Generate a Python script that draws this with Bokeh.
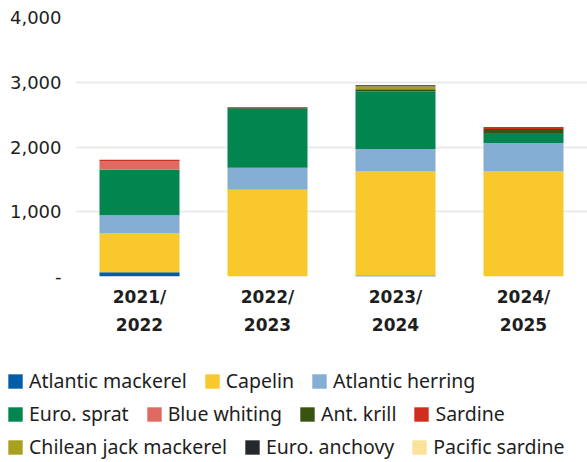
from bokeh.plotting import figure
from bokeh.models import (ColumnDataSource, FactorRange, Range1d, FixedTicker,
                          NumeralTickFormatter, Legend, LegendItem, CategoricalAxis,
                          CustomJSTickFormatter)
from bokeh.embed import file_html
from bokeh.resources import INLINE

# ---- data (thousand tonnes) ----
seasons = ["2021/2022", "2022/2023", "2023/2024", "2024/2025"]
atlantic_mackerel = [65, 0, 15, 0]
capelin = [600, 1340, 1605, 1620]
atlantic_herring = [280, 340, 350, 440]
euro_sprat = [705, 910, 892, 155]
blue_whiting = [125, 0, 0, 0]
ant_krill = [0, 15, 30, 62]
sardine = [30, 0, 0, 30]
chilean_jack_mackerel = [0, 0, 45, 0]
euro_anchovy = [0, 10, 15, 0]
pacific_sardine = [0, 0, 0, 0]

species = ["Atlantic mackerel", "Capelin", "Atlantic herring", "Euro. sprat",
           "Blue whiting", "Ant. krill", "Sardine", "Chilean jack mackerel",
           "Euro. anchovy", "Pacific sardine"]
series = [atlantic_mackerel, capelin, atlantic_herring, euro_sprat, blue_whiting,
          ant_krill, sardine, chilean_jack_mackerel, euro_anchovy, pacific_sardine]
colors = ["#005DAA", "#F8C82C", "#85AED5", "#03854F", "#DF6A62",
          "#3A5311", "#D12C1D", "#A9A01F", "#26292B", "#FAE29B"]
y_ticks = [0, 1000, 2000, 3000, 4000]

NUM_FONT = "DejaVu Sans"
LEG_FONT = "Noto Sans"
TXT = "#1e1e1e"

keys = [f"s{i}" for i in range(len(series))]
data = {"season": seasons}
for k, s in zip(keys, series):
    data[k] = s
source = ColumnDataSource(data)

p = figure(x_range=FactorRange(*seasons, range_padding=0), y_range=Range1d(0, 4000),
           width=587, height=338, output_backend="svg", toolbar_location=None,
           min_border_left=75, min_border_right=0, min_border_top=17, min_border_bottom=62)
p.vbar_stack(keys, x="season", width=0.625, fill_color=colors, line_color=None,
             source=source)

p.outline_line_color = None
p.xgrid.grid_line_color = None
p.ygrid.grid_line_color = "#ebebeb"
p.ygrid.grid_line_width = 2

p.yaxis.ticker = FixedTicker(ticks=y_ticks)
p.yaxis.formatter = NumeralTickFormatter(format="0,0")
p.yaxis.major_label_overrides = {0: "-"}
p.yaxis.axis_line_color = None
p.yaxis.major_tick_line_color = None
p.yaxis.minor_tick_line_color = None
p.yaxis.major_tick_out = 0
p.yaxis.major_label_standoff = 14
p.yaxis.major_label_text_font = NUM_FONT
p.yaxis.major_label_text_font_size = "18px"
p.yaxis.major_label_text_color = TXT

# two-line season labels: first line on the main axis, second on an extra axis
ax1 = p.xaxis[0]
ax2 = CategoricalAxis()
p.add_layout(ax2, "below")
ax1.formatter = CustomJSTickFormatter(code="return tick.split('/')[0] + '/';")
ax2.formatter = CustomJSTickFormatter(code="return tick.split('/')[1];")
for ax, st in ((ax1, 10), (ax2, 8)):
    ax.axis_line_color = None
    ax.major_tick_line_color = None
    ax.minor_tick_line_color = None
    ax.major_tick_out = 0
    ax.major_tick_in = 0
    ax.major_label_standoff = st
    ax.major_label_text_font = NUM_FONT
    ax.major_label_text_font_size = "17px"
    ax.major_label_text_font_style = "bold"
    ax.major_label_text_color = TXT

# ---- legend panel (separate root so its frame starts at the left edge) ----
q = figure(width=587, height=124, x_range=Range1d(0, 1), y_range=Range1d(0, 1),
           output_backend="svg", toolbar_location=None, min_border=0,
           min_border_left=0, min_border_right=0, min_border_top=0, min_border_bottom=0,
           x_axis_location=None, y_axis_location=None)
q.grid.visible = False
q.outline_line_color = None
rends = [q.vbar(x=[5], top=[5], width=0.5, fill_color=c, line_color=None) for c in colors]

rows = [[0, 1, 2], [3, 4, 5, 6], [7, 8, 9]]
row_y = [68, 35, 2]
for row, yy in zip(rows, row_y):
    leg = Legend(items=[LegendItem(label=species[k], renderers=[rends[k]]) for k in row],
                 orientation="horizontal", location=(6, yy), padding=0, margin=0,
                 spacing=16, glyph_width=18, glyph_height=18, label_standoff=5,
                 label_height=24, label_text_font=LEG_FONT, label_text_font_size="19.5px",
                 label_text_color=TXT, border_line_color=None, background_fill_alpha=0)
    q.add_layout(leg)

open("out.html", "w").write(file_html([p, q], INLINE))
